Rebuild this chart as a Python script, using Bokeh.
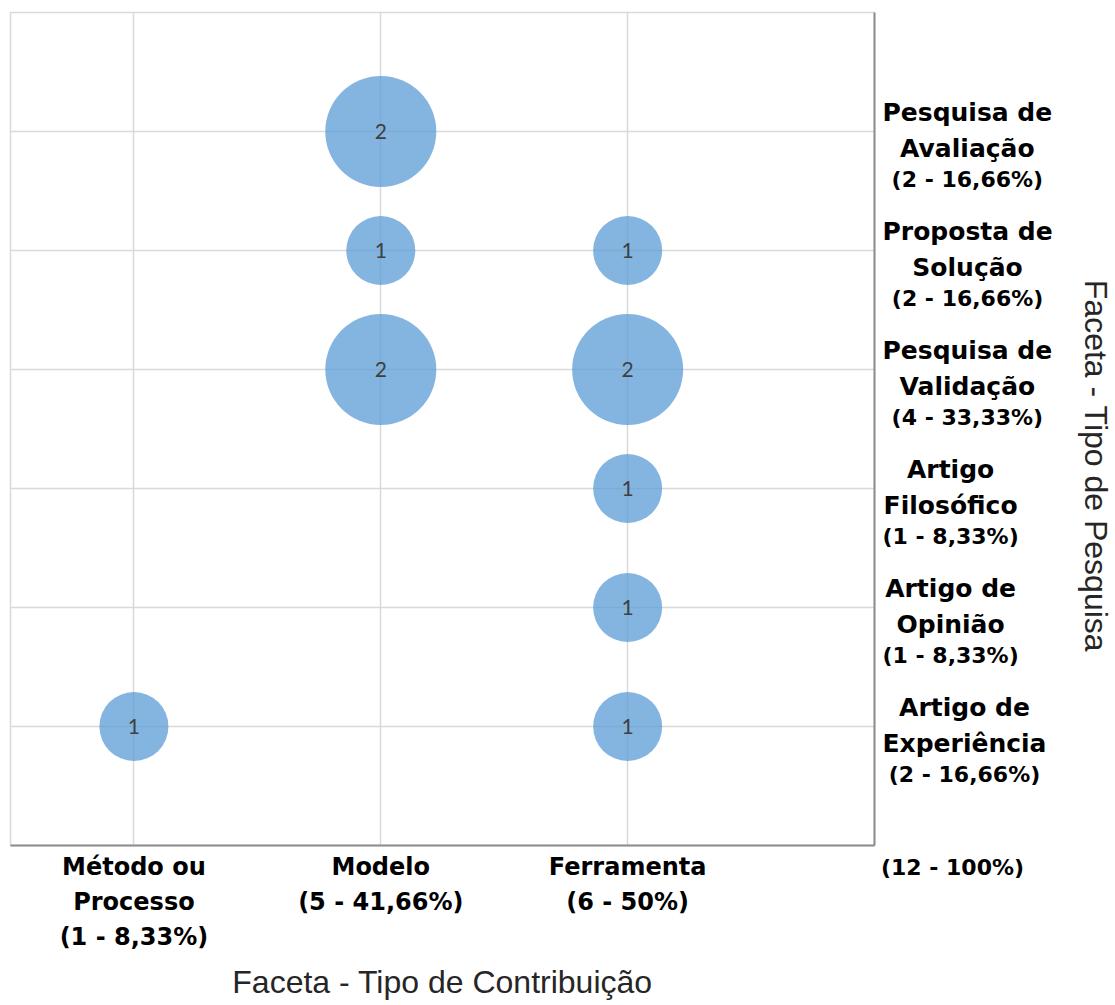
from bokeh.plotting import figure
from bokeh.layouts import row
from bokeh.models import Range1d, FixedTicker, ColumnDataSource
from bokeh.embed import file_html
from bokeh.resources import INLINE
from bokeh.core.properties import value

# ---- data ----
contrib_names = ["Método ou\nProcesso", "Modelo", "Ferramenta"]
contrib_counts = [1, 5, 6]
contrib_pcts = ["8,33%", "41,66%", "50%"]

# research types, bottom to top
research_names = ["Artigo de\nExperiência", "Artigo de\nOpinião", "Artigo\nFilosófico",
                  "Pesquisa de\nValidação", "Proposta de\nSolução", "Pesquisa de\nAvaliação"]
research_counts = [2, 1, 1, 4, 2, 2]
research_pcts = ["16,66%", "8,33%", "8,33%", "33,33%", "16,66%", "16,66%"]

total_count = 12
total_pct = "100%"

# bubbles: contribution index, research index, number of papers
bubble_col = [0, 2, 2, 2, 1, 2, 1, 2, 1]
bubble_row = [0, 0, 1, 2, 3, 3, 4, 4, 5]
bubble_n = [1, 1, 1, 1, 2, 2, 1, 1, 2]

x_title = "Faceta - Tipo de Contribuição"
y_title = "Faceta - Tipo de Pesquisa"

# ---- layout constants ----
TOTAL_W, H = 1112, 1004
A_W = 880
B_W = TOTAL_W - A_W
TOP, BOTTOM = 12, 159
GRID = "#D9D9D9"
AXIS = "#8C8C8C"
BOLD_FONT = "DejaVu Sans"
NAME_FS, PCT_FS = 25, 22

# approximate advance widths of DejaVu Sans Bold (per 1000 em), used to
# left-align each label block while centring its lines (as in the original)
_W = dict(zip("abcdefghijklmnopqrstuvwxyz",
              [675, 716, 593, 716, 678, 435, 716, 712, 343, 343, 665, 343, 1042,
               712, 687, 716, 716, 493, 595, 478, 712, 652, 924, 645, 652, 582]))
_W.update({"A": 774, "E": 683, "F": 683, "M": 995, "O": 850, "P": 733, "S": 720,
           "V": 774, " ": 348, "(": 457, ")": 457, "-": 415, ",": 380, "%": 1002,
           "ç": 593, "ã": 675, "ó": 687, "ê": 678, "é": 678})
for d in "0123456789":
    _W[d] = 696


def text_w(s, fs):
    return sum(_W.get(ch, 700) for ch in s) * fs / 1000.0


yr = Range1d(0, len(research_names) + 1)

# ---- main plot ----
p = figure(width=A_W, height=H, output_backend="svg", toolbar_location=None,
           x_range=Range1d(-0.5, len(contrib_names)), y_range=yr,
           y_axis_location="right",
           min_border_left=10, min_border_top=TOP,
           min_border_right=5, min_border_bottom=BOTTOM)
p.background_fill_color = "white"
p.border_fill_color = "white"
p.outline_line_color = GRID
p.outline_line_width = 1.5

xa = p.xaxis[0]
xa.ticker = FixedTicker(ticks=list(range(len(contrib_names))))
xa.major_label_overrides = {i: f"{n}\n({c} - {pc})" for i, (n, c, pc) in
                            enumerate(zip(contrib_names, contrib_counts, contrib_pcts))}
xa.axis_line_color = AXIS
xa.axis_line_width = 2
xa.major_tick_line_color = None
xa.minor_tick_line_color = None
xa.major_label_text_font = BOLD_FONT
xa.major_label_text_font_style = "bold"
xa.major_label_text_font_size = "24px"
xa.major_label_text_color = "black"
xa.major_label_text_line_height = 1.25
xa.major_label_standoff = 1
xa.axis_label = x_title
xa.axis_label_text_font = "Liberation Sans"
xa.axis_label_text_font_style = "normal"
xa.axis_label_text_font_size = "32px"
xa.axis_label_text_color = "#262626"
xa.axis_label_standoff = 10

ya = p.yaxis[0]
ya.ticker = FixedTicker(ticks=[i + 1 for i in range(len(research_names))])
ya.major_label_overrides = {i + 1: "" for i in range(len(research_names))}
ya.major_label_standoff = 0
ya.axis_line_color = AXIS
ya.axis_line_width = 2
ya.major_tick_line_color = None
ya.minor_tick_line_color = None

p.xgrid.ticker = FixedTicker(ticks=list(range(len(contrib_names))))
p.ygrid.ticker = FixedTicker(ticks=[i + 1 for i in range(len(research_names))])
for g in (p.xgrid[0], p.ygrid[0]):
    g.grid_line_color = GRID
    g.grid_line_width = 1.5

src = ColumnDataSource(dict(
    x=bubble_col,
    y=[r + 1 for r in bubble_row],
    size=[27 + 42 * n for n in bubble_n],
    label=[str(n) for n in bubble_n],
))
p.scatter("x", "y", size="size", source=src, fill_color="#5B9BD5",
          fill_alpha=0.75, line_color=None)
p.text("x", "y", text="label", source=src, text_align="center",
       text_baseline="middle", text_font=value("Lato"), text_font_size="21px",
       text_color="#404040")

# ---- right-hand panel with research-type labels ----
q = figure(width=B_W, height=H, output_backend="svg", toolbar_location=None,
           x_range=Range1d(0, B_W), y_range=yr, y_axis_location=None,
           min_border_left=0, min_border_right=0,
           min_border_top=TOP, min_border_bottom=BOTTOM)
q.outline_line_color = None
q.grid.visible = False
q.background_fill_color = "white"
q.border_fill_color = "white"

LABEL_LEFT = 2     # left edge of each label block (px from panel left)
TOTAL_CX = 72
TITLE_X = 215

name_x, name_y, name_txt, name_off = [], [], [], []
pct_x, pct_y, pct_txt = [], [], []
for i, (name, cnt, pct) in enumerate(zip(research_names, research_counts, research_pcts)):
    l1, l2 = name.split("\n")
    ptxt = f"({cnt} - {pct})"
    block_w = max(text_w(l1, NAME_FS), text_w(l2, NAME_FS), text_w(ptxt, PCT_FS))
    cx = LABEL_LEFT + block_w / 2
    name_x += [cx, cx]
    name_y += [i + 1, i + 1]
    name_txt += [l1, l2]
    name_off += [-19, 17]
    pct_x.append(cx)
    pct_y.append(i + 1)
    pct_txt.append(ptxt)

q.text(x="x", y="y", text="t", y_offset="o",
       source=ColumnDataSource(dict(x=name_x, y=name_y, t=name_txt, o=name_off)),
       text_align="center", text_baseline="middle", text_font=value(BOLD_FONT),
       text_font_style="bold", text_font_size=f"{NAME_FS}px", text_color="black")
q.text(x="x", y="y", text="t", y_offset=48,
       source=ColumnDataSource(dict(x=pct_x, y=pct_y, t=pct_txt)),
       text_align="center", text_baseline="middle", text_font=value(BOLD_FONT),
       text_font_style="bold", text_font_size=f"{PCT_FS}px", text_color="black")

q.text(x=[TITLE_X], y=[(yr.start + yr.end) / 2], text=[y_title], y_offset=37,
       angle=-1.5707963, text_align="center", text_baseline="middle",
       text_font=value("Liberation Sans"), text_font_size="32px",
       text_color="#262626")

qa = q.xaxis[0]
qa.ticker = FixedTicker(ticks=[TOTAL_CX])
qa.major_label_overrides = {TOTAL_CX: f"({total_count} - {total_pct})"}
qa.axis_line_color = None
qa.major_tick_line_color = None
qa.minor_tick_line_color = None
qa.major_label_text_font = BOLD_FONT
qa.major_label_text_font_style = "bold"
qa.major_label_text_font_size = f"{PCT_FS}px"
qa.major_label_text_color = "black"
qa.major_label_standoff = 3

layout = row(p, q)
open("out.html", "w").write(file_html(layout, INLINE))
